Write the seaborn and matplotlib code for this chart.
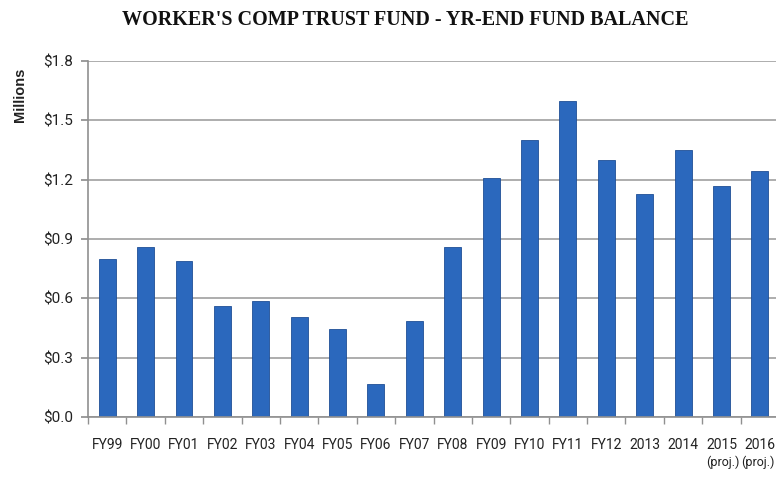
import matplotlib
matplotlib.use("Agg")
import matplotlib.pyplot as plt
import matplotlib.transforms as mtransforms
import seaborn as sns
import pandas as pd
import numpy as np

categories = ["FY99", "FY00", "FY01", "FY02", "FY03", "FY04", "FY05", "FY06", "FY07",
              "FY08", "FY09", "FY10", "FY11", "FY12", "2013", "2014", "2015", "2016"]
balance = [0.80, 0.86, 0.79, 0.56, 0.585, 0.505, 0.445, 0.167, 0.485,
           0.86, 1.21, 1.40, 1.60, 1.30, 1.13, 1.35, 1.17, 1.245]
projected = ["2015", "2016"]
proj_note = "(proj.)"
y_ticks = [0.0, 0.3, 0.6, 0.9, 1.2, 1.5, 1.8]

sns.set_theme(style="white")
plt.rcParams['font.family'] = ['Roboto', 'DejaVu Sans']

df = pd.DataFrame({"cat": categories, "val": balance})

W, H = 776, 479
fig = plt.figure(figsize=(W / 100, H / 100), dpi=100)
left, right, top, bottom = 88, 776, 61, 417
ax = fig.add_axes([left / W, 1 - bottom / H, (right - left) / W, (bottom - top) / H])

sns.barplot(data=df, x="cat", y="val", color="#2b68bd", width=0.44, ax=ax,
            edgecolor="#1f4f96", linewidth=0.6, saturation=1)

ax.set_ylim(0, 1.8)
ax.set_xlim(-0.5, 17.42)
ax.set_yticks(y_ticks)
ax.set_yticklabels([f"${v:.1f}" for v in y_ticks], fontsize=11, color="#222222")
ax.set_xticks(range(len(categories)))
ax.set_xticklabels(categories, fontsize=10, color="#222222")
ax.set_xlabel("")
ax.set_ylabel("")

# "(proj.)" notes under the projected years (second line of their labels)
trans = mtransforms.blended_transform_factory(ax.transData, ax.transAxes)
for cat, dx in zip(projected, (0.03, -0.06)):
    i = categories.index(cat)
    ax.text(i + dx, -0.128, proj_note, transform=trans, ha="center", va="center",
            fontsize=9, color="#222222", clip_on=False)

ax.yaxis.grid(True, color="#a0a0a0", linewidth=1.2)
ax.set_axisbelow(True)
for s in ["top", "right"]:
    ax.spines[s].set_visible(False)
for s in ["left", "bottom"]:
    ax.spines[s].set_color("#909090")
    ax.spines[s].set_linewidth(1.2)

# minor ticks between categories on x axis
ax.set_xticks(np.arange(-0.5, 17.5, 1), minor=True)
ax.tick_params(axis="x", which="minor", bottom=True, length=5, color="#909090")
ax.tick_params(axis="x", which="major", bottom=False, pad=9)
ax.tick_params(axis="y", left=True, length=5, color="#909090", pad=6)

fig.text(405 / W, 1 - 20 / H, "WORKER'S COMP TRUST FUND - YR-END FUND BALANCE",
         ha="center", va="center", fontsize=14.5, fontweight="bold",
         family=["Liberation Serif", "DejaVu Serif"], color="#111111")
fig.text(20 / W, 1 - 68 / H, "Millions", rotation=90, ha="center", va="top",
         fontsize=10.5, fontweight="bold", family=["Liberation Sans", "DejaVu Sans"], color="#222222")

fig.savefig("out.png", dpi=100)
